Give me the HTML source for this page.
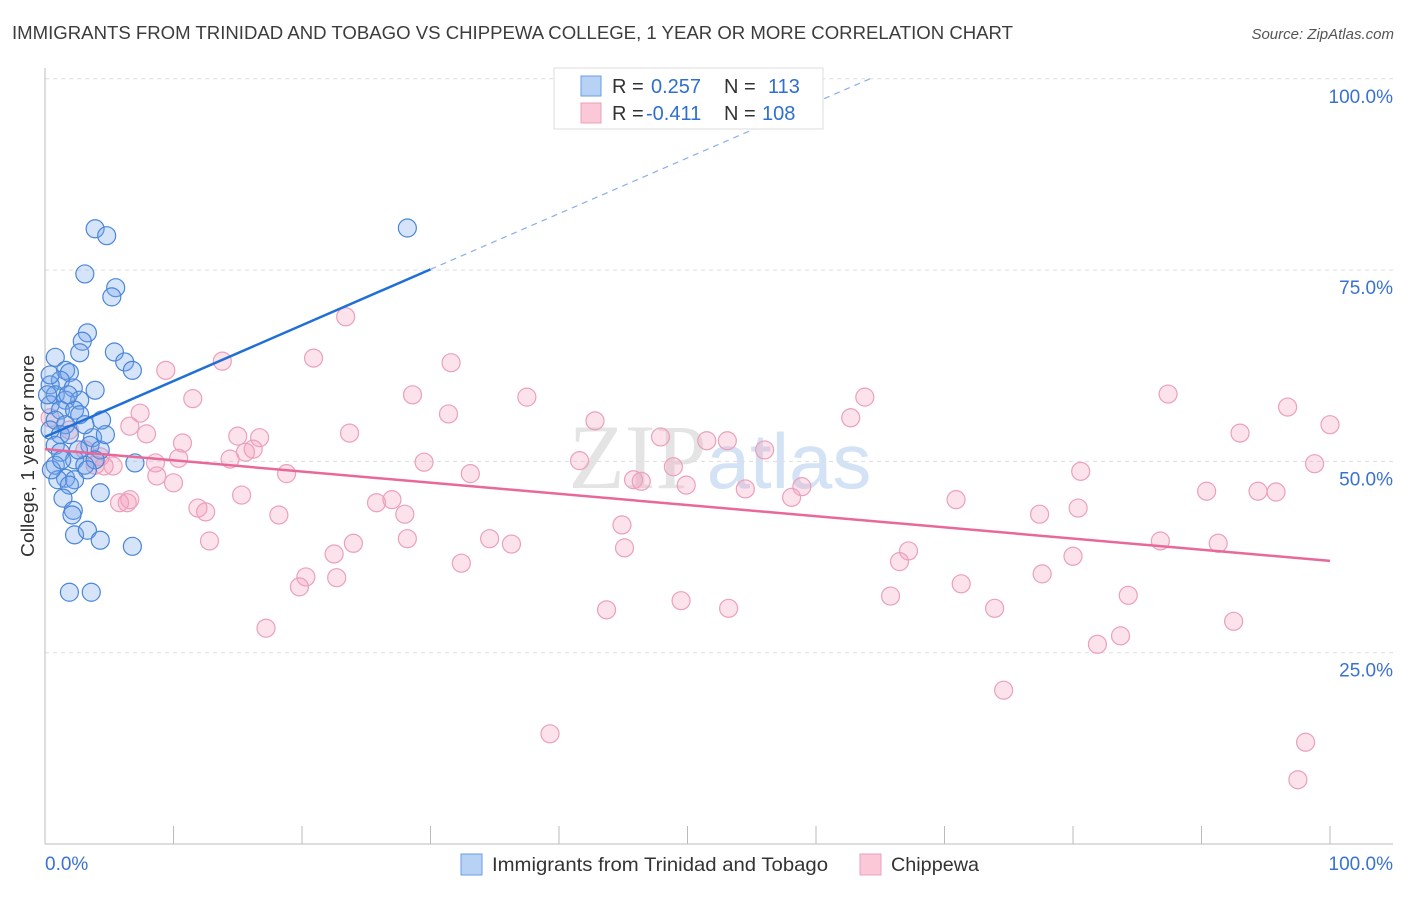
<!DOCTYPE html>
<html><head><meta charset="utf-8"><style>
body{margin:0;background:#fff;font-family:"Liberation Sans",sans-serif;}
#c{position:relative;width:1406px;height:892px;}
</style></head><body>
<div id="c">
<svg id="s" width="1406" height="892" font-family="Liberation Sans, sans-serif">
<text x="12" y="39" font-size="18" fill="#3c3c3c" textLength="1001" lengthAdjust="spacingAndGlyphs">IMMIGRANTS FROM TRINIDAD AND TOBAGO VS CHIPPEWA COLLEGE, 1 YEAR OR MORE CORRELATION CHART</text>
<text x="1394" y="39" font-size="15" fill="#555" text-anchor="end" font-style="italic">Source: ZipAtlas.com</text>
<text x="34" y="456" font-size="18.5" fill="#333" text-anchor="middle" transform="rotate(-90 34 456)" textLength="202" lengthAdjust="spacingAndGlyphs">College, 1 year or more</text>
<text x="720" y="488" font-size="92" fill="#e4e4e4" text-anchor="middle" font-family="Liberation Serif, serif">ZIP<tspan fill="#d3e2f4" font-family="Liberation Sans, sans-serif" font-size="78">atlas</tspan></text>
<g id="grid"></g><g id="pts"></g><g id="lines"></g>
<g>
<rect x="554" y="68" width="269" height="61" fill="#fff" stroke="#ddd"/>
<rect x="581" y="76" width="20" height="20" fill="#b8d2f5" stroke="#6a9ee0"/>
<rect x="581" y="103" width="20" height="20" fill="#fbc8d8" stroke="#eba0bb"/>
<text x="612" y="93" font-size="20" fill="#333">R = <tspan fill="#2f6fd0" x="651">0.257</tspan><tspan x="724">N = </tspan><tspan fill="#2f6fd0" x="768">113</tspan></text>
<text x="612" y="120" font-size="20" fill="#333">R = <tspan fill="#2f6fd0" x="646">-0.411</tspan><tspan x="724">N = </tspan><tspan fill="#2f6fd0" x="762">108</tspan></text>
</g>
<g>
<rect x="461" y="854" width="21" height="21" fill="#b8d2f5" stroke="#6a9ee0"/>
<text x="492" y="871" font-size="19.5" fill="#333" textLength="336" lengthAdjust="spacingAndGlyphs">Immigrants from Trinidad and Tobago</text>
<rect x="860" y="854" width="21" height="21" fill="#fbc8d8" stroke="#eba0bb"/>
<text x="891" y="871" font-size="19.5" fill="#333" textLength="88" lengthAdjust="spacingAndGlyphs">Chippewa</text>
</g>
</svg></div>
<script>
const yTicks=[100,75,50,25];
const xTicks=[0,10,20,30,40,50,60,70,80,90,100];
const blueX=[3.9,4.8,3.1,5.5,5.2,3.3,2.9,2.7,0.8,5.4,6.2,6.8,1.6,3.9,1.9,1.2,0.4,2.2,0.8,1.6,2.7,0.4,1.2,2.3,2.7,0.8,1.6,0.4,1.2,1.9,3.7,0.8,3.5,4.3,1.2,2.3,3.1,3.9,3.3,0.8,1.6,1.0,2.3,1.9,4.3,1.4,2.2,2.1,2.3,3.3,4.3,6.8,1.9,3.6,28.2,4.7,0.5,1.3,0.2,0.4,7.0,4.4,3.1,1.8,2.6];
const blueY=[80.4,79.5,74.5,72.7,71.5,66.8,65.7,64.2,63.6,64.3,63.0,61.9,61.9,59.3,61.6,60.6,60.0,59.6,58.7,58.0,58.0,57.4,56.7,56.7,56.1,55.4,54.8,54.1,53.5,53.5,53.1,52.1,52.1,51.5,51.2,50.2,49.5,50.2,48.9,49.5,47.8,47.6,47.6,46.9,45.9,45.2,43.6,43.0,40.4,41.0,39.7,38.9,32.9,32.9,80.5,53.5,48.9,50.2,58.7,61.3,49.8,55.4,54.8,58.7,51.5];
const pinkX=[23.4,9.4,13.8,20.9,31.6,11.5,28.6,37.5,7.4,31.4,42.8,6.6,7.9,15.0,16.7,23.7,10.7,47.9,51.5,53.1,56.0,62.7,63.8,87.4,96.7,100,93.0,98.8,80.6,10.4,14.4,16.2,15.6,8.6,5.3,6.6,8.7,10.0,18.8,29.5,33.1,41.6,48.9,49.9,45.8,46.4,58.9,54.5,58.1,70.9,90.4,94.4,95.8,15.3,11.9,12.5,27.0,25.8,28.0,18.2,80.4,77.4,44.9,34.6,36.3,86.8,91.3,12.8,24.0,28.2,22.5,45.1,67.2,66.5,80.0,32.4,20.3,19.8,22.7,77.6,71.3,65.8,84.3,49.5,43.7,53.2,73.9,17.2,92.5,83.7,81.9,74.6,39.3,98.1,97.5,5.8,6.4,4.6,0.4,1.9,3.1,4.3,3.9];
const pinkY=[68.9,61.9,63.1,63.5,62.9,58.2,58.7,58.4,56.3,56.2,55.3,54.6,53.6,53.3,53.1,53.7,52.4,53.2,52.7,52.7,51.5,55.7,58.4,58.8,57.1,54.8,53.7,49.7,48.7,50.4,50.3,51.6,51.2,49.8,49.4,45.0,48.1,47.2,48.4,49.9,48.4,50.1,49.3,46.9,47.6,47.4,46.7,46.4,45.3,45.0,46.1,46.1,46.0,45.6,43.9,43.4,45.0,44.6,43.1,43.0,43.9,43.1,41.7,39.9,39.2,39.6,39.3,39.6,39.3,39.9,37.9,38.7,38.3,36.9,37.6,36.7,34.9,33.6,34.8,35.3,34.0,32.4,32.5,31.8,30.6,30.8,30.8,28.2,29.1,27.2,26.1,20.1,14.4,13.3,8.4,44.6,44.6,49.4,55.7,54.1,51.5,50.6,49.5];
const blueTrend=[0,53.2,30,75.1,64.2,100];
const pinkTrend=[0,51.6,100,37.0];
const NS='http://www.w3.org/2000/svg';
const X=v=>45+v*12.85, Y=v=>844-v*7.652;
function mk(tag,attrs,parent){const e=document.createElementNS(NS,tag);for(const k in attrs)e.setAttribute(k,attrs[k]);document.getElementById(parent).appendChild(e);return e;}
for(const t of yTicks){
 const l=mk('line',{x1:45,x2:1393,y1:Y(t),y2:Y(t),stroke:'#ddd','stroke-dasharray':'4,4'},'grid');
 
 
 const tx=mk('text',{x:1393,y:Y(t)+24,'font-size':19,fill:'#3a72d0','text-anchor':'end'},'grid');
 tx.textContent=t.toFixed(1)+'%';
 
 
}
const ax=mk('line',{x1:45,x2:45,y1:68,y2:844,stroke:'#bbb'},'grid');


const bx=mk('line',{x1:45,x2:1393,y1:844,y2:844,stroke:'#bbb'},'grid');


for(const t of xTicks){
 const l=mk('line',{x1:X(t),x2:X(t),y1:826,y2:844,stroke:'#bbb'},'grid');
 
 
}
const xl=mk('text',{x:45,y:870,'font-size':19,fill:'#3a72d0'},'grid');xl.textContent='0.0%';


const xr=mk('text',{x:1393,y:870,'font-size':19,fill:'#3a72d0','text-anchor':'end'},'grid');xr.textContent='100.0%';


for(let i=0;i<pinkX.length;i++){
 const c=mk('circle',{cx:X(pinkX[i]),cy:Y(pinkY[i]),r:9,fill:'rgba(245,160,190,0.3)',stroke:'#eba0bb','stroke-width':1.2},'pts');
 
 
}
for(let i=0;i<blueX.length;i++){
 const c=mk('circle',{cx:X(blueX[i]),cy:Y(blueY[i]),r:9,fill:'rgba(120,165,235,0.3)',stroke:'#4a86d8','stroke-width':1.2},'pts');
 
 
}
const b1=mk('line',{x1:X(blueTrend[0]),y1:Y(blueTrend[1]),x2:X(blueTrend[2]),y2:Y(blueTrend[3]),stroke:'#1f6fd6','stroke-width':2.5},'lines');


const b2=mk('line',{x1:X(blueTrend[2]),y1:Y(blueTrend[3]),x2:X(blueTrend[4]),y2:Y(blueTrend[5]),stroke:'#8ab0e6','stroke-width':1.2,'stroke-dasharray':'6,5'},'lines');


const p1=mk('line',{x1:X(pinkTrend[0]),y1:Y(pinkTrend[1]),x2:X(pinkTrend[2]),y2:Y(pinkTrend[3]),stroke:'#e8689a','stroke-width':2.5},'lines');


</script>
</body></html>
